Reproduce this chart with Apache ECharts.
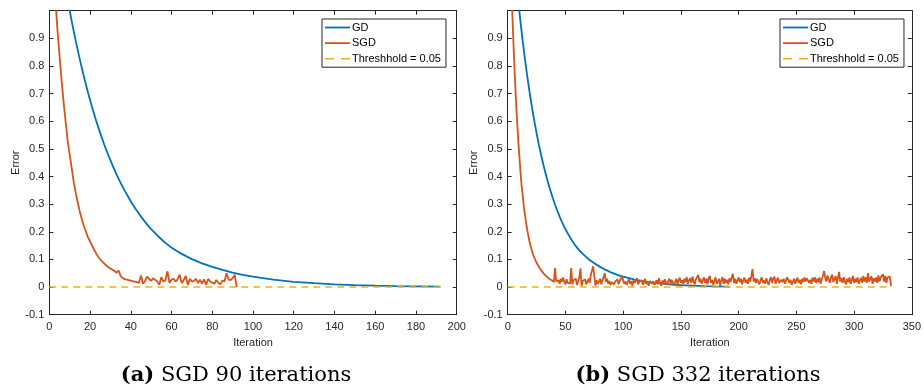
<!DOCTYPE html>
<html>
<head>
<meta charset="utf-8">
<script src="https://cdn.jsdelivr.net/npm/echarts@6/dist/echarts.min.js"></script>
<style>
html,body{margin:0;padding:0;background:#fff;}
#chart{width:924px;height:390px;}
</style>
</head>
<body>
<div id="chart"></div>
<script>
// ---- DATA ----
const gdIter = [1,3,5,7,9,11,13,15,17,19,21,23,25,27,29,31,33,35,37,39,41,43,45,47,49,51,53,55,57,59,62,65,70,75,80,85,90,95,100,110,120,130,140,150,160,170,180,192];
const gdErr  = [1.42,1.313,1.215,1.124,1.04,0.962,0.89,0.823,0.761,0.704,0.651,0.602,0.557,0.515,0.477,0.441,0.408,0.377,0.349,0.323,0.298,0.276,0.255,0.236,0.218,0.202,0.187,0.173,0.16,0.148,0.133,0.12,0.101,0.086,0.073,0.062,0.052,0.044,0.038,0.027,0.019,0.014,0.010,0.007,0.005,0.0036,0.0026,0.0017];

// SGD (a): iterations 1..92
const sgdAErr = [
 1.3,1.17,1.04,0.93,0.84,0.75,0.67,0.6,0.53,0.48,
 0.43,0.38,0.34,0.305,0.272,0.245,0.22,0.2,0.18,0.165,
 0.15,0.135,0.122,0.11,0.1,0.092,0.085,0.078,0.072,0.067,
 0.063,0.058,0.052,0.06,0.04,0.032,0.029,0.027,0.025,0.023,
 0.021,0.02,0.018,0.015,0.042,0.012,0.022,0.038,0.03,0.022,
 0.032,0.026,0.02,0.008,0.036,0.02,0.025,0.057,0.015,0.027,
 0.03,0.02,0.028,0.045,0.015,0.025,0.04,0.008,0.03,0.02,
 0.022,0.03,0.015,0.027,0.012,0.028,0.008,0.03,0.02,0.016,
 0.012,0.026,0.015,0.01,0.024,0.02,0.05,0.028,0.025,0.032,
 0.045,0.0
];

// SGD (b): iterations 1..332
const sgdBErr = [
 1.35,1.22,1.1,0.99,0.88,0.78,0.69,0.61,0.54,0.48,
 0.42,0.37,0.33,0.29,0.26,0.23,0.205,0.183,0.163,0.146,
 0.131,0.118,0.107,0.097,0.088,0.08,0.073,0.066,0.06,0.055,
 0.05,0.045,0.04,0.037,0.033,0.03,0.028,0.025,
 0.02,0.018,0.069,0.02,0.015,0.025,0.012,0.03,0.02,0.035,
 0.018,0.01,0.028,0.015,0.02,0.012,0.069,0.01,0.025,0.018,
 0.03,0.008,0.02,0.035,0.068,0.005,0.022,0.015,0.028,0.01,
 0.02,0.03,0.015,0.045,0.06,0.075,0.04,0.005,0.025,0.012,
 0.02,0.03,0.01,0.025,0.035,0.05,0.02,0.03,0.012,0.022,
 0.008,0.018,0.025,0.01,0.02,0.015,0.028,0.01,0.022,0.03,
 0.038,0.025,0.012,0.02,0.008,0.018,0.03,0.012,0.02,0.005,
 0.025,0.015,0.022,0.032,0.01,0.02,0.015,0.025,0.008,0.018,
 0.03,0.012,0.02,0.005,0.022,0.028,0.012,0.02,0.008,0.015,
 0.025,0.01,0.032,0.015,0.005,0.024,0.012,0.028,0.018,0.008,
 0.022,0.03,0.012,0.026,0.015,0.005,0.02,0.03,0.01,0.024,
 0.034,0.015,0.025,0.01,0.03,0.018,0.036,0.012,0.024,0.032,
 0.015,0.038,0.02,0.01,0.028,0.034,0.044,0.018,0.03,0.012,
 0.024,0.035,0.015,0.03,0.01,0.032,0.04,0.015,0.026,0.008,
 0.022,0.035,0.012,0.02,0.03,0.005,0.024,0.036,0.012,0.03,
 0.015,0.026,0.01,0.032,0.018,0.035,0.048,0.015,0.03,0.012,
 0.024,0.035,0.018,0.03,0.01,0.024,0.034,0.015,0.026,0.012,
 0.034,0.02,0.04,0.065,0.02,0.032,0.015,0.03,0.018,0.01,
 0.026,0.035,0.015,0.024,0.012,0.032,0.018,0.008,0.026,0.036,
 0.015,0.03,0.038,0.012,0.024,0.034,0.015,0.01,0.026,0.018,
 0.03,0.012,0.024,0.035,0.038,0.015,0.026,0.008,0.02,0.03,
 0.012,0.024,0.034,0.015,0.026,0.01,0.03,0.018,0.035,0.02,
 0.032,0.038,0.015,0.026,0.012,0.034,0.02,0.036,0.015,0.03,
 0.018,0.035,0.012,0.03,0.04,0.058,0.034,0.02,0.042,0.028,
 0.015,0.035,0.045,0.018,0.03,0.04,0.012,0.034,0.055,0.02,
 0.032,0.015,0.036,0.02,0.01,0.03,0.018,0.035,0.012,0.026,
 0.04,0.015,0.03,0.018,0.035,0.012,0.024,0.034,0.015,0.04,
 0.02,0.035,0.015,0.05,0.02,0.03,0.04,0.012,0.032,0.02,
 0.035,0.015,0.042,0.02,0.035,0.028,0.046,0.02,0.04,0.015,
 0.035,0.028,0.038,0.003
];

const thresholdValue = 0;
const thresholdSpanA = [0, 192];
const thresholdSpanB = [0, 332];

const xTicksA = [0, 200, 20];   // min, max, step
const xTicksB = [0, 350, 50];
const yTicks  = [-0.1, 1, 0.1];

const names = ['GD', 'SGD', 'Threshhold = 0.05'];
const captions = ['(a)', ' SGD 90 iterations', '(b)', ' SGD 332 iterations'];

// ---- CHART ----
const FONT = '"Liberation Sans", Arial, Helvetica, sans-serif';
const AX = '#262626';
const C_GD = '#0072BD', C_SGD = '#D95319', C_TH = '#EDB120';

const gridA = {left: 49.3, top: 10.7, width: 407.4, height: 304};
const gridB = {left: 507.7, top: 10.7, width: 406.6, height: 304};

function xAx(gi, t, bottom) {
  return {
    type: 'value', gridIndex: gi, position: bottom ? 'bottom' : 'top',
    min: t[0], max: t[1], interval: t[2],
    name: bottom ? 'Iteration' : '', nameLocation: 'middle', nameGap: 22,
    nameTextStyle: {fontFamily: FONT, fontSize: 11, color: AX},
    axisLine: {show: true, onZero: false, lineStyle: {color: AX, width: 1}},
    axisTick: {show: true, inside: true, length: 4, lineStyle: {color: AX}},
    axisLabel: {show: bottom, fontFamily: FONT, fontSize: 11, color: AX, margin: 7},
    splitLine: {show: false}
  };
}
function yAx(gi, left) {
  return {
    type: 'value', gridIndex: gi, position: left ? 'left' : 'right',
    min: yTicks[0], max: yTicks[1], interval: yTicks[2],
    name: left ? 'Error' : '', nameLocation: 'middle', nameGap: 28, nameRotate: 90,
    nameTextStyle: {fontFamily: FONT, fontSize: 11, color: AX},
    axisLine: {show: true, onZero: false, lineStyle: {color: AX, width: 1}},
    axisTick: {show: true, inside: true, length: 4, lineStyle: {color: AX}},
    axisLabel: {show: left, fontFamily: FONT, fontSize: 11, color: AX, margin: 5,
      formatter: v => (Math.abs(v - 1) < 1e-9 ? '' : String(Math.round(v * 10) / 10))},
    splitLine: {show: false}
  };
}

function pairs(xs, ys) { return xs.map((x, i) => [x, ys[i]]); }
function seq(vals) { return vals.map((v, i) => [i + 1, v]); }

function seriesFor(xi, yi, sgd, span) {
  return [
    {name: names[0], type: 'line', xAxisIndex: xi, yAxisIndex: yi, data: pairs(gdIter, gdErr),
     symbol: 'none', clip: true,
     lineStyle: {color: C_GD, width: 1.8}, itemStyle: {color: C_GD}},
    {name: names[1], type: 'line', xAxisIndex: xi, yAxisIndex: yi, data: seq(sgd),
     symbol: 'none', clip: true,
     lineStyle: {color: C_SGD, width: 1.8}, itemStyle: {color: C_SGD}},
    {name: names[2], type: 'line', xAxisIndex: xi, yAxisIndex: yi,
     data: span.map(x => [x, thresholdValue]),
     symbol: 'none', clip: true,
     lineStyle: {color: C_TH, width: 1.4, type: [7, 5]}, itemStyle: {color: C_TH}}
  ];
}

const ICON_SOLID = 'path://M0,0H25V1.8H0Z';
const ICON_DASH = 'path://M0,0H9V1.5H0Z M16,0H25V1.5H16Z';

function legendAt(left) {
  return {
    orient: 'vertical', left: left, top: 19,
    data: [
      {name: names[0], icon: ICON_SOLID, itemStyle: {color: C_GD}},
      {name: names[1], icon: ICON_SOLID, itemStyle: {color: C_SGD}},
      {name: names[2], icon: ICON_DASH, itemStyle: {color: C_TH}}
    ],
    itemWidth: 25, itemHeight: 10, itemGap: 4.6, padding: [3, 5, 3, 3],
    borderColor: AX, borderWidth: 1, backgroundColor: '#fff', borderRadius: 0,
    textStyle: {fontFamily: FONT, fontSize: 11, color: '#000', padding: [0, 0, 0, -3]},
    selectedMode: false
  };
}

const richCap = {
  b: {fontFamily: '"DejaVu Serif", serif', fontWeight: 'bold', fontSize: 21, fill: '#000', color: '#000'},
  n: {fontFamily: '"DejaVu Serif", serif', fontSize: 21, fill: '#000', color: '#000'}
};

const chart = echarts.init(document.getElementById('chart'), null, {renderer: 'canvas'});
chart.setOption({
  animation: false,
  backgroundColor: '#fff',
  grid: [gridA, gridB],
  xAxis: [xAx(0, xTicksA, true), xAx(1, xTicksB, true), xAx(0, xTicksA, false), xAx(1, xTicksB, false)],
  yAxis: [yAx(0, true), yAx(1, true), yAx(0, false), yAx(1, false)],
  legend: [legendAt(322), legendAt(780)],
  series: [].concat(seriesFor(0, 0, sgdAErr, thresholdSpanA), seriesFor(1, 1, sgdBErr, thresholdSpanB)),
  graphic: [
    {type: 'text', x: 236, y: 376, style: {text: '{b|' + captions[0] + '}{n|' + captions[1] + '}', rich: richCap, align: 'center', verticalAlign: 'middle'}},
    {type: 'text', x: 698, y: 376, style: {text: '{b|' + captions[2] + '}{n|' + captions[3] + '}', rich: richCap, align: 'center', verticalAlign: 'middle'}}
  ]
});
</script>
</body>
</html>
